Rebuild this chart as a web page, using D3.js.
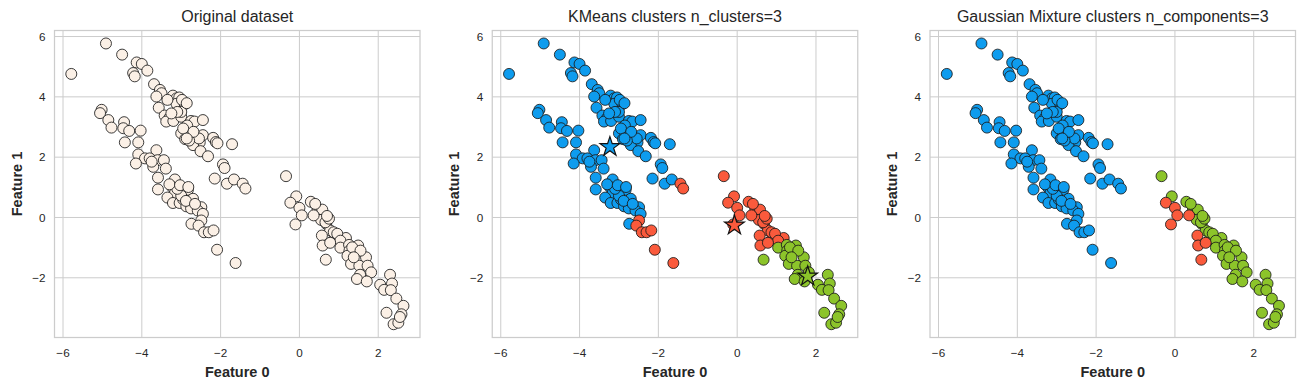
<!DOCTYPE html>
<html><head><meta charset="utf-8">
<script src="https://cdn.jsdelivr.net/npm/d3@7"></script>
<style>body{margin:0;background:#fff} text{font-family:"Liberation Sans",Arial,sans-serif}</style>
</head><body><svg id="c" width="1305" height="389"></svg>
<script>
// ---- data (Feature 0, Feature 1) grouped by [KMeans label, GMM label] ----
const kmBlueGmBlue = [
 [-5.79,4.76],[-4.91,5.77],[-4.5,5.4],[-4.13,5.14],[-4.0,5.09],[-4.22,4.79],[-4.18,4.68],[-3.86,4.87],
 [-3.69,4.42],[-3.54,4.23],[-3.5,4.12],[-3.63,4.01],[-3.57,3.64],[-3.21,4.04],[-3.12,3.95],[-3.05,3.98],
 [-3.12,3.77],[-2.91,3.76],[-3.42,3.38],[-3.3,3.3],[-3.38,3.18],[-3.2,3.2],[-3.0,3.34],[-3.0,3.5],
 [-2.75,3.2],[-2.66,3.18],[-2.45,3.23],[-3.0,2.79],[-2.9,2.6],[-2.74,2.82],[-2.53,2.49],[-2.45,2.73],
 [-2.19,2.64],[-2.12,2.5],[-2.08,2.46],[-1.71,2.43],[-2.7,2.4],[-2.51,2.2],[-2.32,2.03],[-1.94,1.76],
 [-1.9,1.64],[-2.15,1.29],[-1.84,1.12],[-1.66,1.26],[-3.1,3.5],[-2.85,3.05],[-2.55,2.62],[-3.25,3.45],
 [-2.95,2.95],[-3.35,3.9],[-2.8,2.55],[-2.98,3.9],[-2.86,3.79],[-2.69,2.84],[-2.86,2.62],
 [-5.02,3.57],[-5.06,3.46],[-4.85,3.23],[-4.77,2.98],[-4.45,3.16],[-4.47,2.96],[-4.32,2.87],[-4.03,2.88],
 [-4.43,2.49],[-4.09,2.49],[-3.63,2.23],[-4.09,2.09],[-3.92,1.96],[-3.8,1.96],[-4.15,1.79],[-3.6,1.9],
 [-3.44,1.9],[-3.71,1.68],[-3.39,1.62],[-3.59,1.32],[-3.59,0.93],[-3.16,1.26],[-3.23,1.01],[-3.01,0.92],
 [-2.83,0.92],[-3.16,0.81],[-3.35,0.66],[-3.21,0.48],[-3.04,0.48],[-2.95,0.6],[-2.87,0.37],[-2.7,0.62],
 [-2.75,0.3],[-2.49,0.34],[-2.58,0.23],[-2.45,0.12],[-2.74,-0.21],[-3.0,0.72],[-2.88,0.55],[-3.1,0.95],
 [-2.65,0.45],[-3.3,1.1],[-3.75,1.85],[-3.03,1.07],[-2.82,1.01]
];
const kmRedGmBlue = [
 [-1.44,1.12],[-1.37,0.96],[-2.49,-0.1],[-2.56,-0.27],[-2.42,-0.49],[-2.3,-0.49],[-2.18,-0.43],
 [-2.09,-1.07],[-1.62,-1.51]
];
const kmRedGmGreen = [
 [-0.34,1.37],[-0.08,0.7],[0.29,0.52],[0.46,0.28],[0.58,0.26],[0.55,-0.08],[0.68,-0.21],[0.78,-0.43],
 [0.87,-0.75],[1.18,-0.68],[0.66,-0.16],[0.75,-0.04],[0.87,-0.49],[0.96,-0.54],[1.04,-0.77],[0.7,0.05],
 [0.4,0.45]
];
const kmRedGmRed = [
 [-0.23,0.49],[0.0,0.32],[0.06,0.07],[-0.1,-0.23],[0.36,0.07],[0.57,-0.6],[0.59,-0.93],[0.78,-0.84]
];
const kmGreenGmRed = [[0.67,-1.4]];
const kmGreenGmGreen = [
 [1.04,-1.0],[1.26,-0.91],[1.49,-0.93],[1.27,-1.1],[1.22,-1.27],[1.31,-1.54],[1.52,-1.6],[1.69,-1.32],
 [1.73,-1.6],[1.82,-1.82],[1.54,-1.9],[1.46,-2.04],[1.71,-2.12],[2.3,-1.9],[2.05,-2.23],[2.35,-2.19],
 [2.15,-2.4],[2.32,-2.41],[2.46,-2.69],[2.64,-2.93],[2.59,-3.21],[2.21,-3.16],[2.39,-3.54],[2.51,-3.49],
 [2.55,-3.3],[1.34,-0.99],[1.55,-1.1],[1.38,-1.32]
];
const kmeansCenters = [[-3.23,2.34,"blue"],[-0.07,-0.26,"red"],[1.79,-1.95,"green"]];
const xTicks = [-6,-4,-2,0,2];
const yTicks = [-2,0,2,4,6];
const titles = ["Original dataset","KMeans clusters n_clusters=3","Gaussian Mixture clusters n_components=3"];
const xLabel = "Feature 0", yLabel = "Feature 1";
const palette = {blue:"#0e9cee", red:"#fa5a3c", green:"#8cc42a", orig:"#fbf0e6"};

// ---- assemble ----
const groups = [
 [kmBlueGmBlue,"blue","blue"],[kmRedGmBlue,"red","blue"],[kmRedGmGreen,"red","green"],
 [kmRedGmRed,"red","red"],[kmGreenGmRed,"green","red"],[kmGreenGmGreen,"green","green"]
];
const points = [];
groups.forEach(([arr,km,gm]) => arr.forEach(p => points.push({x:p[0],y:p[1],km,gm})));

const svg = d3.select("#c");
const lefts = [54.5, 492.25, 930], W = 365.5, T = 30.5, H = 307;
const yS = d3.scaleLinear().domain([-3.98, 6.2]).range([T+H, T]);
const fmt = d => (d<0 ? "\u2212"+Math.abs(d) : ""+d);

lefts.forEach((L, i) => {
  const xS = d3.scaleLinear().domain([-6.216, 3.06]).range([L, L+W]);
  const g = svg.append("g");
  g.selectAll(".gx").data(xTicks).join("line").attr("x1",d=>xS(d)).attr("x2",d=>xS(d))
    .attr("y1",T).attr("y2",T+H).attr("stroke","#cccccc").attr("stroke-width",1);
  g.selectAll(".gy").data(yTicks).join("line").attr("y1",d=>yS(d)).attr("y2",d=>yS(d))
    .attr("x1",L).attr("x2",L+W).attr("stroke","#cccccc").attr("stroke-width",1);
  g.append("rect").attr("x",L).attr("y",T).attr("width",W).attr("height",H)
    .attr("fill","none").attr("stroke","#cccccc").attr("stroke-width",1.25);
  g.selectAll(".tx").data(xTicks).join("text").attr("x",d=>xS(d)).attr("y",T+H+19.5)
    .attr("text-anchor","middle").attr("font-size",11.7).attr("fill","#262626").text(fmt);
  g.selectAll(".ty").data(yTicks).join("text").attr("x",L-9).attr("y",d=>yS(d)).attr("dy","0.35em")
    .attr("text-anchor","end").attr("font-size",11.7).attr("fill","#262626").text(fmt);
  g.append("text").attr("x",L+W/2).attr("y",377).attr("text-anchor","middle")
    .attr("font-size",14.5).attr("font-weight","bold").attr("fill","#262626").text(xLabel);
  g.append("text").attr("transform",`translate(${L-33},${T+H/2}) rotate(-90)`)
    .attr("text-anchor","middle").attr("font-size",14.5).attr("font-weight","bold").attr("fill","#262626").text(yLabel);
  g.append("text").attr("x",L+W/2).attr("y",22).attr("text-anchor","middle")
    .attr("font-size",16).attr("fill","#262626").text(titles[i]);
  const colorOf = d => i===0 ? palette.orig : (i===1 ? palette[d.km] : palette[d.gm]);
  g.selectAll("circle.pt").data(points).join("circle").attr("class","pt")
    .attr("cx",d=>xS(d.x)).attr("cy",d=>yS(d.y)).attr("r",5.5)
    .attr("fill",colorOf).attr("stroke","#1a1a1a").attr("stroke-width",0.85);
  if (i===1) {
    g.selectAll("path.star").data(kmeansCenters).join("path").attr("class","star")
      .attr("d", d3.symbol().type(d3.symbolStar).size(120))
      .attr("transform",d=>`translate(${xS(d[0])},${yS(d[1])})`)
      .attr("fill",d=>palette[d[2]]).attr("stroke","#111").attr("stroke-width",1.2);
  }
});
</script></body></html>
